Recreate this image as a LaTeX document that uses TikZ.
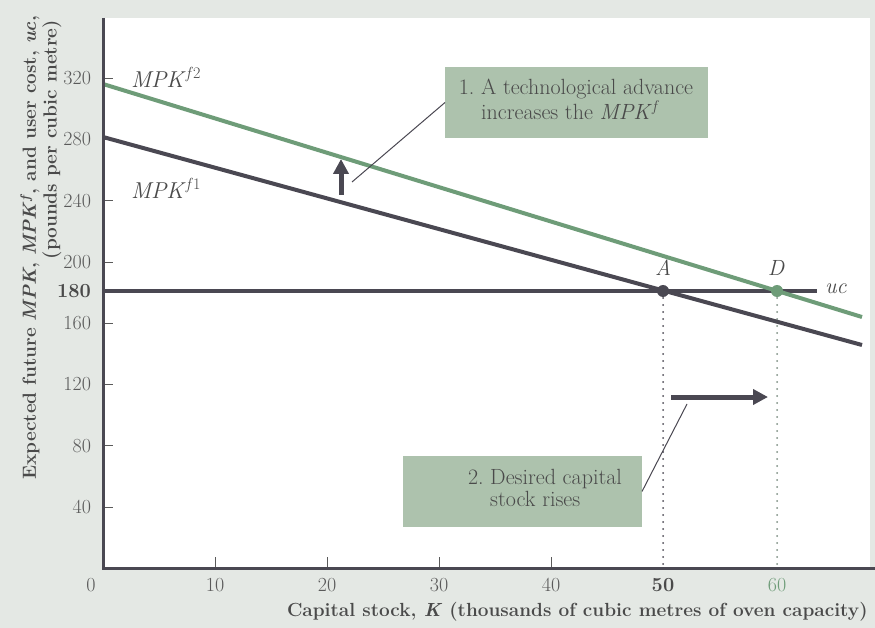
\documentclass[tikz,border=0pt]{standalone}
\usetikzlibrary{arrows.meta}
\definecolor{bg}{HTML}{E4E8E4}
\definecolor{dk}{HTML}{4A4852}
\definecolor{gr}{HTML}{6E9C78}
\definecolor{tx}{HTML}{5A5A5A}
\definecolor{lab}{HTML}{4A4A4A}
\definecolor{boxc}{HTML}{ADC2AD}
\definecolor{dotg}{HTML}{7A8C80}
\begin{document}
\begin{tikzpicture}[x=1pt,y=-1pt,
  every node/.style={inner sep=0pt, outer sep=0pt},
  ticklab/.style={font=\fontsize{20}{22}\selectfont, text=tx},
  tickmark/.style={draw=tx, line width=0.8pt},
  axislab/.style={font=\fontsize{19}{22}\selectfont\bfseries, text=lab},
  curvelab/.style={font=\fontsize{23}{25}\selectfont, text=lab, anchor=west},
  ptlab/.style={font=\fontsize{22}{24}\selectfont\itshape, text=lab},
  callbox/.style={fill=boxc, minimum width=#1},
  calltext/.style={font=\fontsize{22}{21}\selectfont, text=lab, align=left},
  leader/.style={draw=dk, line width=1pt},
  bigarrow/.style={draw=dk, line width=5pt, -{Triangle[length=15pt,width=15pt]}},
  dotline/.style={line width=2pt, dash pattern=on 0pt off 7pt, line cap=round}
]
\useasboundingbox (0,0) rectangle (875,628);
\fill[bg] (0,0) rectangle (875,628);
\fill[white] (103,18) rectangle (870,568);

% key coordinates
\coordinate (O) at (103,568);
\coordinate (Yt) at (103,18);
\coordinate (Xr) at (875,568);
\coordinate (f1s) at (103,137);
\coordinate (f1e) at (862,345);
\coordinate (f2s) at (103,84);
\coordinate (f2e) at (862,317);
\coordinate (ucs) at (103,291);
\coordinate (uce) at (817,291);
\coordinate (A) at (663,291);
\coordinate (D) at (777,291);
\coordinate (Ab) at (663,568);
\coordinate (Db) at (777,568);

% ticks
\foreach \v in {40,80,120,160,200,240,280,320}{
  \draw[tickmark] (103,{568.3-1.532*\v}) -- ++(10,0);
  \node[ticklab, anchor=east] (yl\v) at (91,{568.3-1.532*\v}) {\v};
}
\node[ticklab, anchor=east, text=lab, font=\fontsize{20}{22}\selectfont\bfseries] (yl180) at (91,291) {180};
\foreach \k in {10,20,30,40}{
  \draw[tickmark] ({103+11.2*\k},568) -- ++(0,-11);
  \node[ticklab] (xl\k) at ({103+11.2*\k},585) {\k};
}
\node[ticklab] (xl0) at (91,585) {0};
\node[ticklab, text=lab, font=\fontsize{20}{22}\selectfont\bfseries] (xl50) at (663,585) {50};
\node[ticklab, text=gr] (xl60) at (777,585) {60};

% dotted guides
\draw[dotline, draw=dk] (A) -- (Ab);
\draw[dotline, draw=dotg] (D) -- (Db);

% curves
\draw[dk, line width=4pt] (ucs) -- (uce);
\draw[dk, line width=4pt] (f1s) -- (f1e);
\draw[gr, line width=4pt] (f2s) -- (f2e);

% axes
\draw[dk, line width=3pt] (Yt) -- (O) -- (Xr);

% points
\fill[dk] (A) circle (6pt);
\fill[gr] (D) circle (6pt);
\node[ptlab] (lA) at (663,268) {A};
\node[ptlab] (lD) at (776,268) {D};
\node[ptlab, anchor=west] (luc) at (825,289) {uc};

% curve labels
\node[curvelab] (l2) at (131,77) {\textit{MPK}\textsuperscript{\textit{f}2}};
\node[curvelab] (l1) at (131,188) {\textit{MPK}\textsuperscript{\textit{f}1}};

% shift arrows
\coordinate (u0) at (341,195);
\coordinate (u1) at (341,159);
\draw[bigarrow] (u0) -- (u1);
\coordinate (r0) at (671,397);
\coordinate (r1) at (768,397);
\draw[bigarrow] (r0) -- (r1);

% callout 1
\node[callbox=263pt, minimum height=71pt] (b1) at (576.5,102.5) {};
\node[calltext] (t1) at (576,102.5) {\begin{tabular}{@{}l@{\ }l@{}}1. & A technological advance\\ & increases the \textit{MPK}\textsuperscript{\textit{f}}\end{tabular}};
\coordinate (c1) at (352,182);
\draw[leader] (b1.west) -- (c1);

% callout 2
\node[callbox=239pt, minimum height=71pt] (b2) at (522.5,491.5) {};
\node[calltext, anchor=west] (t2) at (468,491) {\begin{tabular}{@{}l@{\ }l@{}}2. & Desired capital\\ & stock rises\end{tabular}};
\coordinate (c2) at (687,404);
\draw[leader] (b2.east) -- (c2);

% axis labels
\node[axislab, anchor=west] (xlab) at (287,612) {Capital stock, \textit{K} (thousands of cubic metres of oven capacity)};
\node[axislab, rotate=90, anchor=east] (ylab1) at (30,16) {Expected future \textit{MPK}, \textit{MPK}\textsuperscript{\textit{f}}, and user cost, \textit{uc},};
\node[axislab, rotate=90, anchor=east] (ylab2) at (52,20) {(pounds per cubic metre)};
\end{tikzpicture}
\end{document}
